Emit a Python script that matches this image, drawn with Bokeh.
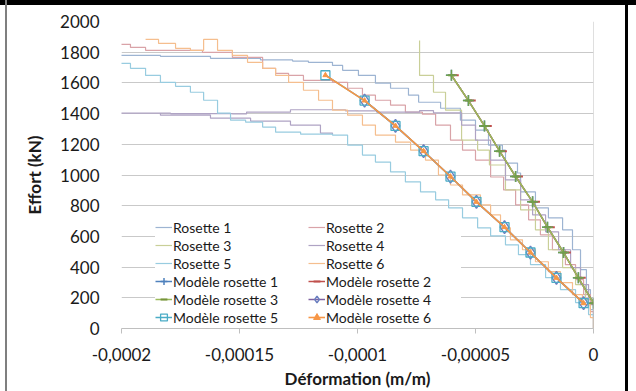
import numpy as np
from bokeh.plotting import figure
from bokeh.models import Range1d, FixedTicker, Span, Legend, LegendItem
from bokeh.embed import file_html
from bokeh.resources import INLINE

U = 1e-6  # strain values below are in micro-strain

x_ticks = [-0.0002, -0.00015, -0.0001, -0.00005, 0.0]
x_tick_labels = ["-0,0002", "-0,00015", "-0,0001", "-0,00005", "0"]
y_ticks = [0, 200, 400, 600, 800, 1000, 1200, 1400, 1600, 1800, 2000]

# ---- model curves (kN vs micro-strain)
model_load = [1650, 1485, 1320, 1155, 990, 825, 660, 495, 330, 165]
model_steep_strain = [-60.2, -53.0, -46.2, -39.8, -33.0, -25.8, -19.5, -12.7, -6.4, 0.0]
model_soft_strain = [-113.6, -97.0, -83.9, -72.0, -60.6, -49.6, -37.7, -26.7, -15.7, -4.2]

# ---- measured rosettes (NaN separates branches)
r1_strain = [-204.6, -183.5, -162.3, -141.1, -127.5, -120.8, -110.6, -106.3, -99.6, -92.4, -86.0, -78.4,
             -74.1, -64.8, -56.4, -50.0, -44.5, -38.6, -37.3, -32.2, -30.9, -24.6, -19.1, -13.1, -8.9,
             -5.5, -3.0, -1.3, 0.0]
r1_load = [1779, 1773, 1760, 1750, 1742, 1734, 1714, 1682, 1649, 1598, 1565, 1520, 1474, 1435, 1357,
           1292, 1195, 1162, 1078, 1013, 890, 786, 721, 643, 513, 383, 253, 123, 0]

r2_strain = [-204.6, -196.2, -189.8, -165.7, -153.0, -140.2, -134.7, -129.2, -122.9, -110.6, -104.2,
             -97.9, -92.4, -86.0, -79.7, -72.5, -66.9, -60.6, -55.5, -50.0, -43.6, -38.1, -33.0, -27.5,
             -22.5, -17.4, -11.9, -7.6, -4.2, -1.3, 0.0]
r2_load = [1851, 1831, 1812, 1799, 1766, 1695, 1662, 1649, 1617, 1604, 1565, 1520, 1487, 1455, 1409,
           1396, 1325, 1227, 1162, 1097, 987, 903, 805, 708, 610, 513, 416, 318, 221, 110, 0]

r3_strain = [-73.7, -73.7, -67.8, -62.7, -55.9, -49.1, -44.1, -37.3, -30.9, -24.6, -19.1, -13.1, -7.6,
             -3.4, 0.0]
r3_load = [1877, 1649, 1539, 1422, 1227, 1162, 1065, 903, 773, 643, 513, 396, 286, 188, 0]

r4_strain = [-204.6, -179.2, -153.0, -147.0, -128.4, -105.1, -91.9, -73.7, -67.8, -55.9, -50.0, -43.6,
             -37.3, -30.9, -25.8, -20.3, -14.8, -9.7, -5.5, -2.1, 0.0, np.nan,
             -204.6, -183.5, -162.3, -145.3, -128.4, -115.7, -110.6]
r4_load = [1403, 1400, 1398, 1410, 1425, 1418, 1410, 1420, 1405, 1325, 1227, 1097, 968, 838, 740, 630,
           513, 396, 286, 156, 0, np.nan,
           1403, 1390, 1370, 1351, 1325, 1273, 1260]

r5_strain = [-204.6, -196.2, -189.8, -183.5, -177.1, -170.8, -165.2, -159.3, -153.8, -147.4, -140.2,
             -134.7, -124.1, -110.6, -104.2, -97.9, -92.4, -86.0, -79.7, -73.3, -66.9, -61.4, -55.5,
             -49.1, -43.6, -37.3, -31.8, -26.7, -20.3, -14.0, -7.6, -2.1, 0.0]
r5_load = [1727, 1695, 1649, 1604, 1578, 1539, 1487, 1403, 1357, 1344, 1312, 1279, 1266, 1260, 1195,
           1130, 1084, 1020, 955, 890, 838, 786, 721, 656, 604, 545, 481, 416, 331, 253, 169, 91, 0]

r6_strain = [-189.8, -184.3, -177.1, -170.8, -165.2, -159.3, -153.0, -146.6, -140.2, -134.7, -129.2,
             -122.9, -116.5, -110.6, -104.2, -97.9, -92.4, -83.9, -77.5, -71.2, -65.7, -60.6, -55.5,
             -47.9, -43.6, -39.4, -35.2, -30.1, -24.6, -19.1, -14.0, -8.9, -4.7, -1.3, 0.0]
r6_load = [1883, 1857, 1825, 1812, 1883, 1812, 1779, 1734, 1695, 1649, 1604, 1552, 1487, 1422, 1390,
           1325, 1260, 1214, 1162, 1097, 1000, 935, 870, 805, 740, 656, 578, 513, 435, 370, 299, 221,
           156, 71, 0]

rosette_names = ["Rosette 1", "Rosette 2", "Rosette 3", "Rosette 4", "Rosette 5", "Rosette 6"]
rosette_colors = ["#9DB4D2", "#D9A3A8", "#C9CF98", "#AFA3C4", "#98CCE0", "#F5BE8E"]
model_names = ["Modèle rosette 1", "Modèle rosette 2", "Modèle rosette 3",
               "Modèle rosette 4", "Modèle rosette 5", "Modèle rosette 6"]
model_colors = ["#4F81BD", "#C0504D", "#9BBB59", "#8064A2", "#4BACC6", "#F79646"]


def staircase(xs, ys):
    """Turn measured points into step vertices (horizontal then vertical)."""
    vx, vy = [], []
    n = len(xs)
    for i in range(n):
        x, y = xs[i], ys[i]
        if np.isnan(x):
            vx.append(np.nan); vy.append(np.nan)
            continue
        vx.append(x * U); vy.append(y)
        if i + 1 < n and not np.isnan(xs[i + 1]):
            vx.append(xs[i + 1] * U); vy.append(y)
    return vx, vy


FONT = "Lato"

# page frame of the source document (thin borders around the chart)
frame_css = """
:host::before { content: ""; position: absolute; left: 0; top: 0; width: 636px; height: 5px;
  background: #000; z-index: 50; pointer-events: none; }
:host::after { content: ""; position: absolute; left: 5px; top: 0; width: 623px; height: 391px;
  box-sizing: border-box; border-left: 2px solid #7F7F7F; border-right: 3px solid #000;
  z-index: 50; pointer-events: none; }
"""

p = figure(width=636, height=391, output_backend="svg", toolbar_location=None,
           x_range=Range1d(-0.0002, 0.0), y_range=Range1d(0, 2000),
           min_border_left=121, min_border_right=43, min_border_top=21, min_border_bottom=62,
           stylesheets=[frame_css])
p.outline_line_color = None
p.background_fill_color = "white"
p.border_fill_color = "white"

p.xgrid.grid_line_color = None
p.ygrid.grid_line_color = "#C9C9C9"
p.ygrid.grid_line_width = 1

p.xaxis.ticker = FixedTicker(ticks=x_ticks)
p.xaxis.major_label_overrides = {t: l for t, l in zip(x_ticks, x_tick_labels)}
p.yaxis.ticker = FixedTicker(ticks=y_ticks)
p.xaxis.minor_tick_line_color = None
p.yaxis.minor_tick_line_color = None
p.xaxis.axis_line_color = "#BFBFBF"
p.xaxis.major_tick_line_color = "#BFBFBF"
p.xaxis.major_tick_out = 5
p.xaxis.major_tick_in = 0
p.yaxis.axis_line_color = None
p.yaxis.major_tick_line_color = None
for ax in (p.xaxis, p.yaxis):
    ax.major_label_text_font = FONT
    ax.major_label_text_font_size = "17px"
    ax.major_label_text_color = "#1a1a1a"
    ax.axis_label_text_font = FONT
    ax.axis_label_text_font_size = "17px"
    ax.axis_label_text_font_style = "bold"
    ax.axis_label_text_color = "#1a1a1a"
p.xaxis.major_label_standoff = 14
p.xaxis.axis_label_standoff = 4
p.yaxis.major_label_standoff = 16
p.yaxis.axis_label_standoff = 12
p.xaxis.axis_label = "Déformation (m/m)"
p.yaxis.axis_label = "Effort (kN)"

p.add_layout(Span(location=0, dimension="height", line_color="#BFBFBF", line_width=1))

items = {}
ros_data = [(r1_strain, r1_load), (r2_strain, r2_load), (r3_strain, r3_load),
            (r4_strain, r4_load), (r5_strain, r5_load), (r6_strain, r6_load)]
for name, col, (sx, sy) in zip(rosette_names, rosette_colors, ros_data):
    vx, vy = staircase(sx, sy)
    r = p.line(vx, vy, line_color=col, line_width=1.2)
    items[name] = [r]

steep_x = [v * U for v in model_steep_strain]
soft_x = [v * U for v in model_soft_strain]

# model rosettes 1-3 (steep)
l1 = p.line(steep_x, model_load, line_color=model_colors[0], line_width=1.5)
m1 = p.scatter(steep_x, model_load, marker="cross", size=11, line_color=model_colors[0], line_width=1.5)
l2 = p.line(steep_x, model_load, line_color=model_colors[1], line_width=1.5)
m2 = p.scatter([x + 1.2e-6 for x in steep_x], model_load, marker="dash", size=9,
               line_color=model_colors[1], line_width=2)
l3 = p.line(steep_x, model_load, line_color=model_colors[2], line_width=1.5)
m3 = p.scatter(steep_x, model_load, marker="dash", size=7, line_color="#77933C", line_width=2)
m1b = p.scatter(steep_x, model_load, marker="cross", size=11, line_color="#6FA04E", line_width=1.5)

# model rosettes 4-6 (softer)
l4 = p.line(soft_x[1:], model_load[1:], line_color=model_colors[3], line_width=1.5)
m4 = p.scatter(soft_x[1:], model_load[1:], marker="diamond", size=13, fill_color=None,
               line_color="#6A7FC0", line_width=1.4)
l5 = p.line(soft_x, model_load, line_color=model_colors[4], line_width=1.5)
m5 = p.scatter(soft_x, model_load, marker="square", size=9, fill_color=None,
               line_color=model_colors[4], line_width=1.3)
l6 = p.line(soft_x, model_load, line_color=model_colors[5], line_width=1.6)
m6 = p.scatter(soft_x, model_load, marker="triangle", size=5, fill_color=model_colors[5],
               line_color=model_colors[5])

items[model_names[0]] = [l1, m1]
items[model_names[1]] = [l2, m2]
items[model_names[2]] = [l3, m3]
items[model_names[3]] = [l4, m4]
items[model_names[4]] = [l5, m5]
items[model_names[5]] = [l6, m6]

order = ["Rosette 1", "Rosette 3", "Rosette 5", model_names[0], model_names[2], model_names[4],
         "Rosette 2", "Rosette 4", "Rosette 6", model_names[1], model_names[3], model_names[5]]
legend = Legend(items=[LegendItem(label=n, renderers=items[n]) for n in order],
                ncols=2, location=(34, 2))
legend.label_text_font = FONT
legend.label_text_font_size = "14px"
legend.label_text_color = "#1a1a1a"
legend.glyph_width = 17
legend.glyph_height = 18
legend.label_height = 18
legend.label_width = 135
legend.label_standoff = 1
legend.spacing = 0
legend.padding = 3
legend.margin = 0
legend.border_line_color = None
legend.background_fill_color = "white"
legend.background_fill_alpha = 1.0
p.add_layout(legend, "center")

open("out.html", "w").write(file_html(p, INLINE))
